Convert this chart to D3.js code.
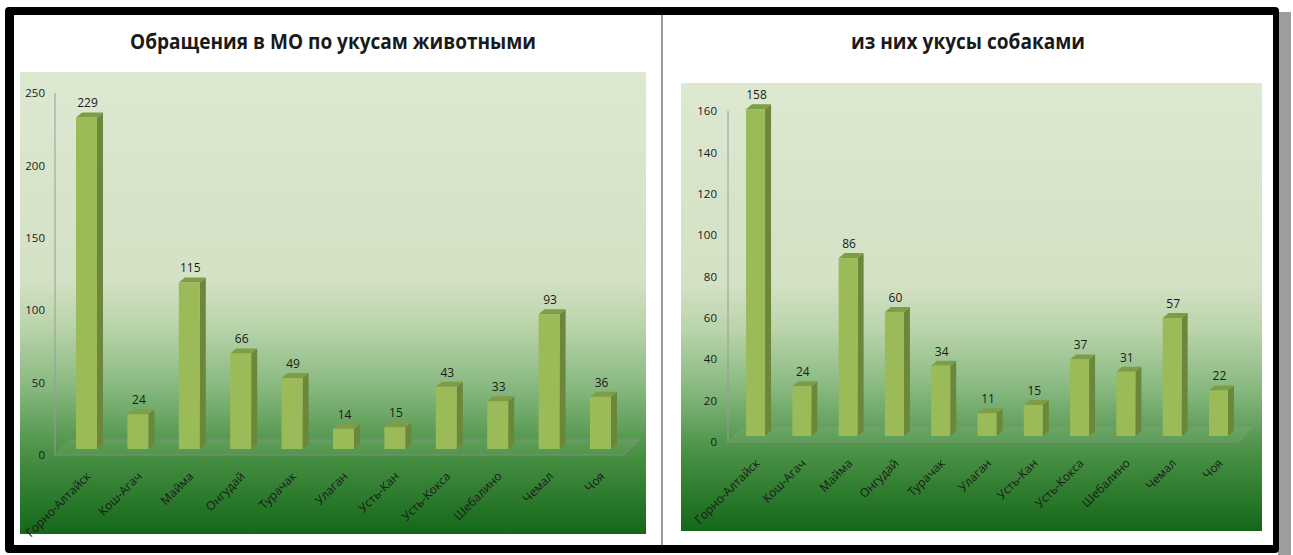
<!DOCTYPE html>
<html>
<head>
<meta charset="utf-8">
<script src="https://cdn.jsdelivr.net/npm/d3@7"></script>
<style>
  html, body { margin: 0; padding: 0; background: #fff; }
  svg { display: block; }
  text { font-family: "Open Sans", "Noto Sans", sans-serif; fill: #1a1a1a; }
</style>
</head>
<body>
<svg id="chart" width="1293" height="555"></svg>
<script>
// Districts of the Altai Republic
const categories = ["Горно-Алтайск", "Кош-Агач", "Майма", "Онгудай", "Турачак", "Улаган",
                    "Усть-Кан", "Усть-Кокса", "Шебалино", "Чемал", "Чоя"];
// Visits to medical organisations after animal bites
const animalBites = [229, 24, 115, 66, 49, 14, 15, 43, 33, 93, 36];
// Of these, dog bites
const dogBites = [158, 24, 86, 60, 34, 11, 15, 37, 31, 57, 22];
const animalTicks = [0, 50, 100, 150, 200, 250];
const dogTicks = [0, 20, 40, 60, 80, 100, 120, 140, 160];
const titles = ["Обращения в МО по укусам животными", "из них укусы собаками"];

const svg = d3.select("#chart");
const defs = svg.append("defs");

// Frame with a drop shadow on the right
svg.append("rect").attr("x", 1278).attr("y", 12).attr("width", 13).attr("height", 543).attr("fill", "#9d9d9d");
svg.append("rect").attr("x", 5).attr("y", 7).attr("width", 1274).attr("height", 546).attr("rx", 4).attr("fill", "#000");
svg.append("rect").attr("x", 14).attr("y", 15).attr("width", 1259).attr("height", 530).attr("fill", "#fff");
svg.append("rect").attr("x", 661).attr("y", 15).attr("width", 2).attr("height", 530).attr("fill", "#9a9a9a");

// Plot-area background: pale green fading into dark green
const grad = defs.append("linearGradient").attr("id", "bg").attr("x1", 0).attr("y1", 0).attr("x2", 0).attr("y2", 1);
[[0, "#dde8d1"], [0.45, "#d3e1c4"], [0.55, "#bad4ab"], [0.68, "#88b980"], [0.82, "#4b9246"], [1, "#146719"]]
  .forEach(([o, c]) => grad.append("stop").attr("offset", o).attr("stop-color", c));

function drawChart(cfg) {
  const g = svg.append("g");
  const { plot, values, ticks } = cfg;

  g.append("rect").attr("x", plot.x).attr("y", plot.y).attr("width", plot.w).attr("height", plot.h)
    .attr("fill", "url(#bg)");

  g.append("text").attr("x", cfg.titleX).attr("y", 49).attr("text-anchor", "middle")
    .attr("font-size", 20.5).attr("font-weight", 700).attr("fill", "#000")
    .attr("textLength", cfg.titleW).attr("lengthAdjust", "spacingAndGlyphs")
    .text(cfg.title);

  const y = d3.scaleLinear().domain([0, d3.max(ticks)]).range(cfg.yRange);
  const x = d3.scaleBand().domain(categories).range(cfg.xRange)
    .paddingInner(cfg.pad).paddingOuter(cfg.pad / 2);

  const depthX = 6, depthY = 5, sink = 6;   // 3-D column depth and its offset into the floor
  const floorDX = 15, floorDY = 15;
  const y0 = y(0);

  // Floor
  g.append("path")
    .attr("d", `M${cfg.axisX},${y0} L${cfg.floorRight},${y0} L${cfg.floorRight + floorDX},${y0 - floorDY} L${cfg.axisX + floorDX},${y0 - floorDY} Z`)
    .attr("fill", "rgba(255,255,255,0.06)").attr("stroke", "rgba(140,140,140,0.8)").attr("stroke-width", 1);

  // Vertical axis
  g.append("line").attr("x1", cfg.axisX).attr("x2", cfg.axisX).attr("y1", y(d3.max(ticks))).attr("y2", y0)
    .attr("stroke", "#9a9a9a").attr("stroke-width", 1);

  const axis = d3.axisLeft(y).tickValues(ticks).tickSize(0).tickPadding(cfg.tickPad);
  const ag = g.append("g").attr("transform", `translate(${cfg.axisX},0)`).call(axis);
  ag.select(".domain").remove();
  ag.selectAll("text").attr("font-size", 11.5).attr("fill", "#1a1a1a")
    .style("font-family", '"Open Sans", sans-serif');

  const data = categories.map((c, i) => ({ c, v: values[i] }));
  const bw = x.bandwidth();
  const bars = g.append("g").selectAll("g").data(data).join("g");

  // side face
  bars.append("path").attr("fill", "#6c873a")
    .attr("d", d => {
      const l = x(d.c) + bw, t = y(d.v) - sink, b = y0 - sink;
      return `M${l},${t} L${l + depthX},${t - depthY} L${l + depthX},${b - depthY} L${l},${b} Z`;
    });
  // top face
  bars.append("path").attr("fill", "#7f9d47")
    .attr("d", d => {
      const l = x(d.c), t = y(d.v) - sink;
      return `M${l},${t} L${l + depthX},${t - depthY} L${l + bw + depthX},${t - depthY} L${l + bw},${t} Z`;
    });
  // front face
  bars.append("rect").attr("fill", "#9bbb59")
    .attr("x", d => x(d.c)).attr("width", bw)
    .attr("y", d => y(d.v) - sink).attr("height", d => y0 - y(d.v));

  // value labels
  bars.append("text").attr("text-anchor", "middle").attr("font-size", 12)
    .attr("x", d => x(d.c) + bw / 2 + 1).attr("y", d => y(d.v) - sink - 10)
    .text(d => d.v);

  // category labels
  g.append("g").selectAll("text").data(categories).join("text")
    .attr("font-size", 12).attr("text-anchor", "end")
    .attr("transform", c => `translate(${x(c) + bw / 2 + 5},${y0 + 22}) rotate(-45)`)
    .text(c => c);
}

drawChart({
  title: titles[0], titleX: 333, titleW: 406,
  plot: { x: 20, y: 72, w: 626, h: 462 },
  values: animalBites, ticks: animalTicks,
  yRange: [455, 93], xRange: [60.8, 626.2], pad: 0.5914,
  axisX: 55, floorRight: 624, tickPad: 10
});

drawChart({
  title: titles[1], titleX: 968, titleW: 234,
  plot: { x: 681, y: 83, w: 581, h: 448 },
  values: dogBites, ticks: dogTicks,
  yRange: [442, 111], xRange: [732.4, 1241.6], pad: 0.5896,
  axisX: 728, floorRight: 1238, tickPad: 11
});
</script>
</body>
</html>
